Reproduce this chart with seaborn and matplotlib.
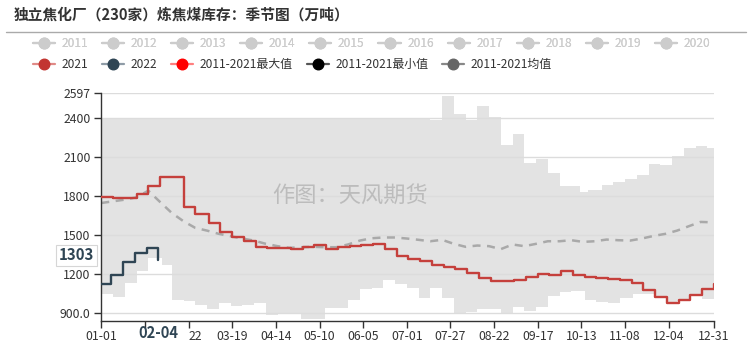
import numpy as np
import pandas as pd
import matplotlib
matplotlib.use("Agg")
import matplotlib.pyplot as plt
from matplotlib.lines import Line2D
import matplotlib.transforms as mtransforms
import seaborn as sns

# ---------------- data ----------------
title = "独立焦化厂（230家）炼焦煤库存：季节图（万吨）"

# 2021 weekly values (every Friday of 2021, 01-01 ... 12-31)
v2021 = [1795, 1782, 1782, 1818, 1879, 1946, 1946, 1718, 1659, 1590, 1522,
         1482, 1456, 1408, 1402, 1400, 1392, 1408, 1423, 1392, 1405, 1418,
         1423, 1426, 1392, 1338, 1315, 1302, 1267, 1256, 1238, 1208, 1169,
         1144, 1144, 1151, 1174, 1195, 1190, 1218, 1192, 1174, 1164, 1156,
         1154, 1131, 1074, 1023, 977, 995, 1036, 1079, 1123]

# 2022
d2022 = ["01-01", "01-07", "01-14", "01-21", "01-28", "02-04"]
v2022 = [1123, 1190, 1292, 1362, 1400, 1303]

# 2011-2021 max
max_dates = ["01-01", "07-15", "07-22", "07-29", "08-05", "08-12", "08-19",
             "08-26", "09-02", "09-09", "09-16", "09-23", "09-30", "10-12",
             "10-17", "10-25", "11-01", "11-08", "11-15", "11-22", "11-29",
             "12-06", "12-13", "12-20", "12-27", "12-31"]
max_vals = [2392, 2386, 2572, 2430, 2386, 2495, 2413, 2193, 2276, 2057, 2088,
            1974, 1881, 1828, 1849, 1887, 1905, 1931, 1959, 2046, 2036, 2110,
            2174, 2187, 2169, 2169]

# 2011-2021 min
min_dates = ["01-01", "01-08", "01-15", "01-22", "01-29", "02-06", "02-12",
             "02-19", "02-26", "03-04", "03-11", "03-18", "03-25", "04-01",
             "04-08", "04-15", "04-22", "04-29", "05-06", "05-13", "05-20",
             "05-27", "06-03", "06-10", "06-17", "06-24", "07-01", "07-08",
             "07-15", "07-22", "07-29", "08-05", "08-12", "08-19", "08-26",
             "09-02", "09-09", "09-16", "09-23", "09-30", "10-07", "10-15",
             "10-22", "10-29", "11-05", "11-13", "11-25", "12-03", "12-09",
             "12-17", "12-24", "12-31"]
min_vals = [1041, 1020, 1126, 1220, 1318, 1267, 1000, 988, 962, 932, 975,
            954, 960, 973, 882, 889, 895, 854, 849, 937, 936, 1000, 1080,
            1087, 1149, 1120, 1087, 1013, 1087, 1015, 895, 908, 925, 925, 887,
            944, 913, 944, 1028, 1059, 1067, 997, 985, 977, 1013, 1045, 1016,
            965, 990, 1030, 1006, 1006]

# 2011-2021 average (weekly)
avg_vals = [1746, 1759, 1772, 1790, 1841, 1754, 1669, 1605, 1554, 1533, 1508,
            1490, 1472, 1456, 1431, 1413, 1400, 1405, 1408, 1405, 1405, 1426,
            1456, 1474, 1480, 1480, 1472, 1462, 1451, 1462, 1431, 1408, 1418,
            1413, 1390, 1426, 1413, 1431, 1451, 1451, 1459, 1446, 1451, 1464,
            1459, 1456, 1472, 1492, 1508, 1533, 1567, 1600, 1597]

legend_years = [str(y) for y in range(2011, 2021)]
legend_main = ["2021", "2022", "2011-2021最大值", "2011-2021最小值", "2011-2021均值"]

y_ticks = [900, 1200, 1500, 1800, 2100, 2400, 2597]
y_ticklabels = ["900.0", "1200", "1500", "1800", "2100", "2400", "2597"]
y_min, y_max = 838, 2597
current_label = "02-04"
current_value = 1303

# ---------------- helpers ----------------
base = pd.Timestamp("2020-01-01")


def doy(mmdd):
    return (pd.Timestamp("2020-" + mmdd) - base).days


d2021 = list(pd.date_range("2021-01-01", "2021-12-31", freq="7D").strftime("%m-%d"))
x2021 = [doy(d) for d in d2021]
x2022 = [doy(d) for d in d2022]
xmax = [doy(d) for d in max_dates]
xmin = [doy(d) for d in min_dates]
xavg = [7 * i for i in range(len(avg_vals))]

# ---------------- style ----------------
sns.set_theme(style="white")
plt.rcParams["font.family"] = ["Noto Sans CJK SC", "DejaVu Sans"]
plt.rcParams["axes.unicode_minus"] = False

W, H = 748, 348
fig = plt.figure(figsize=(W / 100, H / 100), dpi=100)
L, R, T, B = 101.3, 714.0, 92.7, 320.7
ax = fig.add_axes([L / W, 1 - B / H, (R - L) / W, (B - T) / H])

# band
ax.fill_between(xmax, max_vals, y_min, step="post", color="#e3e3e3", lw=0, zorder=0.2)
ax.fill_between(xmin, min_vals, y_min, step="post", color="white", lw=0, zorder=0.3)

# lines
sns.lineplot(x=xavg, y=avg_vals, ax=ax, color="#a9a9a9", lw=1.8,
             linestyle=(0, (3.2, 2.6)), zorder=2.5)
sns.lineplot(x=x2021, y=v2021, ax=ax, color="#c5403c", lw=1.7,
             drawstyle="steps-post", zorder=3)
sns.lineplot(x=x2022, y=v2022, ax=ax, color="#2f4554", lw=1.7,
             drawstyle="steps-post", zorder=3.2)

# axes
ax.set_xlim(0, 365)
ax.set_ylim(y_min, y_max)
ax.set_xlabel("")
ax.set_ylabel("")
ax.set_axisbelow(True)
ax.yaxis.grid(True, color="#dcdcdc", lw=1)
ax.xaxis.grid(False)
for s in ["top", "right"]:
    ax.spines[s].set_visible(False)
for s in ["left", "bottom"]:
    ax.spines[s].set_color("#333333")
    ax.spines[s].set_linewidth(1)

cur_x = doy(current_label)
xt = list(range(0, 339, 26)) + [365]
xlabels = [(base + pd.Timedelta(days=d)).strftime("%m-%d") for d in xt]
# the pointer label hides the 01-27 label and the first part of 02-22
xlabels[1] = ""
xlabels[2] = xlabels[2][3:]
ax.set_xticks(xt)
ax.set_xticklabels(xlabels)
ax.set_yticks(y_ticks)
ax.set_yticklabels(y_ticklabels)
ax.tick_params(axis="both", which="major", bottom=True, left=True, direction="out",
               length=5, width=1, color="#333333", labelsize=8.8, labelcolor="#333333")
ax.tick_params(axis="x", pad=1.5)
ax.tick_params(axis="y", pad=2.8)
ax.get_xticklabels()[2].set_horizontalalignment("left")

# axis pointer label on x axis
trx = mtransforms.blended_transform_factory(ax.transData, ax.transAxes)
ax.text(cur_x, -0.052, current_label, transform=trx, ha="center", va="center",
        fontsize=10.6, fontweight="bold", color="#2f4554", zorder=6, clip_on=False)

# axis pointer label on y axis
ax.annotate(str(current_value), xy=(0, current_value), xycoords=("axes fraction", "data"),
            xytext=(-7, 5), textcoords="offset pixels", ha="right", va="center",
            fontsize=10.8, fontweight="bold", color="#2f4554", zorder=6,
            annotation_clip=False,
            bbox=dict(boxstyle="square,pad=0.18", fc="white", ec="#d6d6d6", lw=0.8))

# title & separator
fig.text(14 / W, 1 - 15 / H, title, fontsize=10.6, fontweight="bold", color="#333333",
         ha="left", va="center")
fig.add_artist(Line2D([6 / W, 746 / W], [1 - 31.5 / H] * 2, color="#aaaaaa", lw=1))

# watermark
fig.text(350 / W, 1 - 196 / H, "作图：天风期货", fontsize=16, color="#bcbcbc",
         ha="center", va="center")

# legends
def handle(line_c, mark_c):
    return Line2D([], [], color=line_c, lw=1.6, marker="o", markersize=7.6,
                  markerfacecolor=mark_c, markeredgecolor=mark_c)

h1 = [handle("#cccccc", "#cccccc") for _ in legend_years]
leg1 = fig.legend(h1, legend_years, ncol=10, loc="center left",
                  bbox_to_anchor=(33 / W, 1 - 43.5 / H), frameon=False, fontsize=8.6,
                  handlelength=1.85, handletextpad=0.55, columnspacing=1.16,
                  borderpad=0, borderaxespad=0, labelcolor="#cccccc")
fig.add_artist(leg1)
h2 = [handle("#e08a87", "#c23531"), handle("#8f9ca7", "#2f4554"),
      handle("#ff8080", "#ff0000"), handle("#555555", "#000000"),
      handle("#888888", "#666666")]
fig.legend(h2, legend_main, ncol=5, loc="center left",
           bbox_to_anchor=(33 / W, 1 - 64.5 / H), frameon=False, fontsize=8.6,
           handlelength=1.85, handletextpad=0.55, columnspacing=1.16,
           borderpad=0, borderaxespad=0, labelcolor="#333333")

fig.savefig("out.png", dpi=100)
